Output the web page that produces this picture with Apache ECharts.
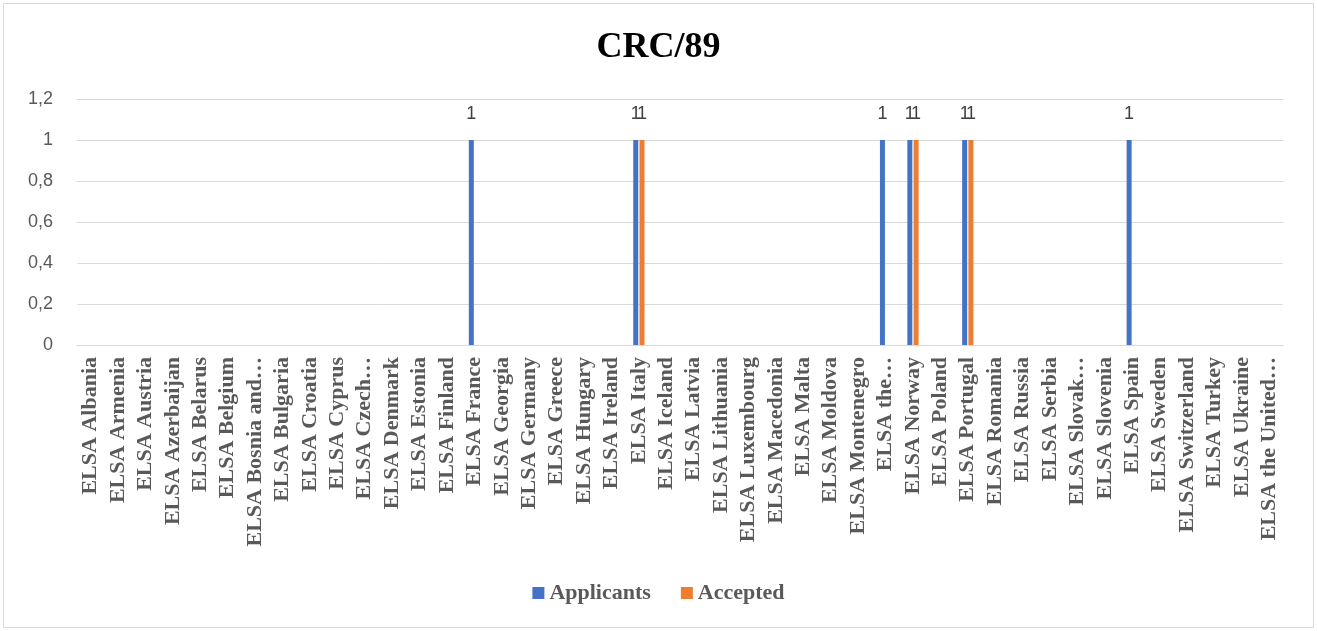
<!DOCTYPE html>
<html>
<head>
<meta charset="utf-8">
<script src="https://cdn.jsdelivr.net/npm/echarts@6/dist/echarts.min.js"></script>
<style>
html,body{margin:0;padding:0;background:#fff;}
#chart{width:1317px;height:631px;}
</style>
</head>
<body>
<div id="chart"></div>
<script>
const titleText = 'CRC/89';
const categories = [
  'ELSA Albania','ELSA Armenia','ELSA Austria','ELSA Azerbaijan','ELSA Belarus','ELSA Belgium',
  'ELSA Bosnia and…','ELSA Bulgaria','ELSA Croatia','ELSA Cyprus','ELSA Czech…','ELSA Denmark',
  'ELSA Estonia','ELSA Finland','ELSA France','ELSA Georgia','ELSA Germany','ELSA Greece',
  'ELSA Hungary','ELSA Ireland','ELSA Italy','ELSA Iceland','ELSA Latvia','ELSA Lithuania',
  'ELSA Luxembourg','ELSA Macedonia','ELSA Malta','ELSA Moldova','ELSA Montenegro','ELSA the…',
  'ELSA Norway','ELSA Poland','ELSA Portugal','ELSA Romania','ELSA Russia','ELSA Serbia',
  'ELSA Slovak…','ELSA Slovenia','ELSA Spain','ELSA Sweden','ELSA Switzerland','ELSA Turkey',
  'ELSA Ukraine','ELSA the United…'
];
const applicants = [0,0,0,0,0,0,0,0,0,0,0,0,0,0,1,0,0,0,0,0,1,0,0,0,0,0,0,0,0,1,1,0,1,0,0,0,0,0,1,0,0,0,0,0];
const accepted   = [0,0,0,0,0,0,0,0,0,0,0,0,0,0,0,0,0,0,0,0,1,0,0,0,0,0,0,0,0,0,1,0,1,0,0,0,0,0,0,0,0,0,0,0];
const seriesNames = ['Applicants','Accepted'];
const yTicks = {min:0, max:1.2, interval:0.2};

const chart = echarts.init(document.getElementById('chart'), null, {renderer:'canvas'});
const serif = '"Liberation Serif", "DejaVu Serif", serif';
const sans = '"Liberation Sans", "DejaVu Sans", sans-serif';
const labelFmt = p => (p.value ? String(p.value) : '');
chart.setOption({
  animation:false,
  backgroundColor:'#fff',
  graphic:[{type:'rect', shape:{x:3.5,y:3.5,width:1310,height:624}, style:{fill:'none',stroke:'#D9D9D9',lineWidth:1}, silent:true}],
  title:{text:titleText,left:'center',top:25,textStyle:{fontFamily:serif,fontSize:36,fontWeight:'bold',color:'#000'}},
  legend:{data:seriesNames,bottom:22,left:'center',itemWidth:12,itemHeight:12,itemGap:30,icon:'rect',
    textStyle:{fontFamily:serif,fontSize:22,fontWeight:'bold',color:'#595959'}},
  grid:{left:77,right:34,top:99,bottom:286,containLabel:false},
  xAxis:{type:'category',data:categories,
    axisLine:{lineStyle:{color:'#D9D9D9',width:1}},axisTick:{show:false},
    axisLabel:{interval:0,rotate:90,margin:12,fontFamily:serif,fontSize:22,fontWeight:'bold',color:'#595959'}},
  yAxis:{type:'value',min:yTicks.min,max:yTicks.max,interval:yTicks.interval,
    axisLine:{show:false},axisTick:{show:false},
    splitLine:{lineStyle:{color:'#D9D9D9',width:1}},
    axisLabel:{margin:24,fontFamily:sans,fontSize:18,color:'#595959',
      formatter:v=>String(Math.round(v*10)/10).replace('.',',')}},
  series:[
    {name:seriesNames[0],type:'bar',data:applicants,barWidth:5,barGap:'25%',itemStyle:{color:'#4472C4'},
      label:{show:true,position:'top',distance:17,formatter:labelFmt,fontFamily:sans,fontSize:18,color:'#404040'}},
    {name:seriesNames[1],type:'bar',data:accepted,barWidth:5,itemStyle:{color:'#ED7D31'},
      label:{show:true,position:'top',distance:17,formatter:labelFmt,fontFamily:sans,fontSize:18,color:'#404040'}}
  ]
});
</script>
</body>
</html>
